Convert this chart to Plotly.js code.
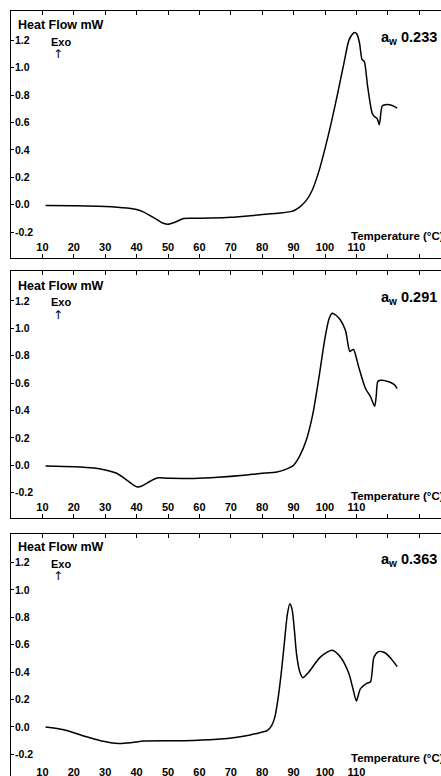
<!DOCTYPE html>
<html>
<head>
<meta charset="utf-8">
<script src="https://cdn.plot.ly/plotly-3.0.1.min.js"></script>
<style>
html,body{margin:0;padding:0;overflow:hidden;background:#fff;}
#chart{width:482px;height:790px;}
</style>
</head>
<body>
<div id="chart"></div>
<script>
// ---- data ----
const panelLabels = ["0.233", "0.291", "0.363"];

const tempA = [11, 20, 30, 37, 40, 42, 44, 46.6, 48.5, 50, 52, 55, 58, 63.5, 70, 79.4, 85.8, 89, 90.5, 92, 94, 96, 98, 100, 102, 104, 106, 107.6, 108.7, 109.4, 110.2, 111, 111.8, 112.5, 113.6, 115, 115.7, 116.6, 117.3, 118.2, 119.2, 121.4, 123];
const heatA = [-0.005, -0.007, -0.012, -0.024, -0.035, -0.05, -0.075, -0.11, -0.135, -0.143, -0.13, -0.10, -0.098, -0.097, -0.092, -0.073, -0.06, -0.05, -0.038, -0.015, 0.03, 0.11, 0.24, 0.41, 0.6, 0.81, 1.03, 1.2, 1.245, 1.258, 1.245, 1.18, 1.06, 1.046, 0.86, 0.67, 0.645, 0.63, 0.584, 0.72, 0.73, 0.725, 0.705];

const tempB = [11, 20, 26.4, 30, 33.8, 37, 39, 40.2, 41.5, 43.3, 46.5, 50, 58.2, 66, 74.1, 79.4, 84.7, 87.5, 90, 92, 94, 96, 98, 100, 101.3, 102.3, 103.5, 104.9, 106.5, 107.9, 108.5, 109.1, 110.7, 112.9, 114.5, 115.8, 116.3, 116.8, 117.6, 120.3, 122, 123];
const heatB = [-0.005, -0.01, -0.02, -0.035, -0.06, -0.11, -0.145, -0.158, -0.153, -0.13, -0.093, -0.095, -0.097, -0.088, -0.073, -0.06, -0.049, -0.03, 0.0, 0.07, 0.18, 0.36, 0.63, 0.93, 1.07, 1.11, 1.095, 1.06, 0.985, 0.83, 0.84, 0.845, 0.72, 0.56, 0.5, 0.43, 0.5, 0.61, 0.62, 0.61, 0.59, 0.56];

const tempC = [11, 16.8, 23.2, 28.5, 34.3, 38, 42.3, 50, 55, 65.6, 72, 76.2, 79.5, 81.6, 83, 84, 85, 86, 87, 88, 88.8, 89.5, 90.2, 91, 92, 93, 94.8, 98.5, 102.3, 104.9, 107.6, 109, 110, 111.3, 113.4, 114.5, 115.6, 117.1, 119.2, 121, 123];
const heatC = [0.0, -0.02, -0.066, -0.1, -0.12, -0.115, -0.102, -0.1, -0.1, -0.09, -0.075, -0.058, -0.04, -0.027, 0.01, 0.07, 0.2, 0.38, 0.6, 0.82, 0.9, 0.86, 0.72, 0.52, 0.4, 0.36, 0.40, 0.51, 0.56, 0.51, 0.39, 0.27, 0.19, 0.28, 0.32, 0.33, 0.51, 0.55, 0.54, 0.50, 0.44];

const xTickVals = [10, 20, 30, 40, 50, 60, 70, 80, 90, 100, 110, 120, 130, 140];
const xTickText = ["10", "20", "30", "40", "50", "60", "70", "80", "90", "100", "110", "", "", ""];
const yTickVals = [-0.2, 0.0, 0.2, 0.4, 0.6, 0.8, 1.0, 1.2];
const yTickText = ["-0.2", "0.0", "0.2", "0.4", "0.6", "0.8", "1.0", "1.2"];

// ---- chart ----
const FONT = "Liberation Sans, Arial, Helvetica, sans-serif";
const temps = [tempA, tempB, tempC];
const heats = [heatA, heatB, heatC];
const H = 790;
const panelPx = [[10.5, 257.5], [271, 518], [533.5, 783]];
const yRanges = [[-0.385, 1.418], [-0.385, 1.418], [-0.409, 1.412]];

const traces = [];
const layout = {
  width: 482, height: H,
  margin: {l: 11, r: 0, t: 0, b: 0},
  paper_bgcolor: "#fff", plot_bgcolor: "#fff",
  showlegend: false,
  font: {family: FONT, color: "#000"},
  annotations: []
};

for (let i = 0; i < 3; i++) {
  const sfx = i === 0 ? "" : String(i + 1);
  const xa = "x" + sfx, ya = "y" + sfx;
  traces.push({
    x: temps[i], y: heats[i], xaxis: xa, yaxis: ya,
    type: "scatter", mode: "lines",
    line: {color: "#000", width: 1.5, shape: "spline", smoothing: 0.7},
    hoverinfo: "skip"
  });
  const dom = [1 - panelPx[i][1] / H, 1 - panelPx[i][0] / H];
  layout["xaxis" + sfx] = {
    domain: [0, 1], anchor: ya, range: [0, 150],
    showline: true, linecolor: "#000", linewidth: 1, mirror: "ticks",
    ticks: "inside", ticklen: 4, tickcolor: "#000", tickwidth: 1,
    tickvals: xTickVals, ticktext: xTickText,
    ticklabelposition: "inside",
    tickfont: {family: FONT, size: 11, weight: 700, color: "#000"},
    showgrid: false, zeroline: false, fixedrange: true
  };
  layout["yaxis" + sfx] = {
    domain: dom, anchor: xa, range: yRanges[i],
    showline: true, linecolor: "#000", linewidth: 1,
    ticks: "inside", ticklen: 3, tickcolor: "#000", tickwidth: 1,
    tickvals: yTickVals, ticktext: yTickText,
    ticklabelposition: "inside",
    tickfont: {family: FONT, size: 10.5, weight: 700, color: "#000"},
    showgrid: false, zeroline: false, fixedrange: true
  };
  const ann = layout.annotations;
  ann.push({xref: xa, yref: ya, x: 1.7, y: 1.31, xanchor: "left", yanchor: "middle",
    text: "Heat Flow mW", showarrow: false,
    font: {family: FONT, size: 12.5, weight: 700, color: "#000"}});
  ann.push({xref: xa, yref: ya, x: 12.2, y: 1.19, xanchor: "left", yanchor: "middle",
    text: "Exo", showarrow: false,
    font: {family: FONT, size: 11, weight: 700, color: "#000"}});
  ann.push({xref: xa, yref: ya, x: 15.1, y: 1.1, xanchor: "center", yanchor: "middle",
    text: "↑", showarrow: false,
    font: {family: "DejaVu Sans, sans-serif", size: 12, color: "#000000"}});
  ann.push({xref: xa, yref: ya, x: 136.2, y: 1.22, xanchor: "right", yanchor: "middle",
    text: "a<sub>w</sub> " + panelLabels[i], showarrow: false,
    font: {family: FONT, size: 14.5, weight: 700, color: "#000"}});
  ann.push({xref: xa, yref: ya, x: 107.6, y: -0.225, xanchor: "left", yanchor: "middle",
    text: "Temperature (°C)", showarrow: false,
    font: {family: FONT, size: 11.5, weight: 700, color: "#000"}});
}

Plotly.newPlot("chart", traces, layout, {displayModeBar: false, staticPlot: true});
</script>
</body>
</html>
